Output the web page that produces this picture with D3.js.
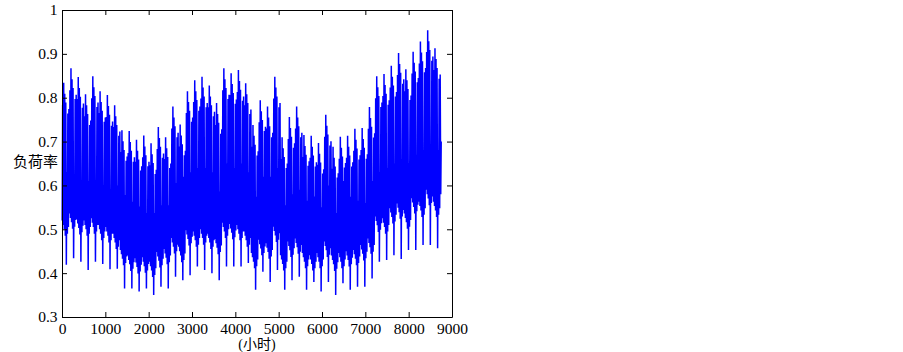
<!DOCTYPE html>
<html><head><meta charset="utf-8">
<script src="https://cdn.jsdelivr.net/npm/d3@7"></script>
<style>body{margin:0;background:#fff}svg{display:block}</style>
</head><body>
<svg id="c" width="903" height="352"></svg>
<script>
// ---- data (weekly envelope values of the hourly load rate) ----
const weekPeak=[0.834,0.867,0.847,0.808,0.849,0.815,0.806,0.783,0.726,0.724,0.704,0.714,0.696,0.733,0.710,0.780,0.739,0.815,0.840,0.848,0.828,0.788,0.867,0.856,0.863,0.833,0.738,0.794,0.780,0.848,0.710,0.756,0.780,0.715,0.713,0.697,0.761,0.688,0.711,0.713,0.729,0.731,0.779,0.849,0.854,0.873,0.902,0.865,0.905,0.928,0.954,0.913,0.750];
const weekTrough=[0.419,0.434,0.426,0.407,0.426,0.421,0.409,0.410,0.365,0.365,0.358,0.365,0.350,0.369,0.365,0.392,0.384,0.395,0.415,0.407,0.400,0.384,0.415,0.415,0.415,0.423,0.362,0.403,0.380,0.407,0.362,0.384,0.392,0.362,0.380,0.358,0.380,0.350,0.377,0.362,0.369,0.369,0.388,0.426,0.430,0.441,0.432,0.453,0.453,0.464,0.464,0.457,0.460];
const weekBaseMin=[0.520,0.536,0.523,0.520,0.525,0.510,0.505,0.490,0.453,0.440,0.434,0.436,0.426,0.448,0.455,0.480,0.460,0.498,0.495,0.500,0.490,0.478,0.515,0.512,0.510,0.495,0.446,0.476,0.468,0.506,0.441,0.472,0.479,0.446,0.441,0.446,0.472,0.440,0.446,0.450,0.453,0.464,0.479,0.529,0.525,0.548,0.559,0.536,0.571,0.563,0.590,0.563,0.580];
const weekGapMax=[0.630,0.620,0.605,0.610,0.600,0.600,0.590,0.600,0.578,0.563,0.552,0.537,0.537,0.555,0.555,0.605,0.620,0.630,0.640,0.640,0.630,0.586,0.650,0.640,0.650,0.630,0.574,0.620,0.620,0.640,0.555,0.580,0.590,0.565,0.575,0.550,0.600,0.537,0.610,0.574,0.565,0.560,0.610,0.630,0.640,0.650,0.660,0.650,0.670,0.680,0.690,0.680,0.650];
// day-of-week shape (read from the spikes inside one week); day 4 uses the gap/trough values
const weekdayMaxOffset=[-0.05,0,-0.025,-0.045,null,-0.07,-0.06];
const weekdayMinOffset=[0,-0.01,-0.02,-0.035,null,-0.03,-0.015];
const xTicks=[0,1000,2000,3000,4000,5000,6000,7000,8000,9000];
const yTicks=[0.3,0.4,0.5,0.6,0.7,0.8,0.9,1];
const yTickLabels=["0.3","0.4","0.5","0.6","0.7","0.8","0.9","1"];
const days=365;
const yLabel="负荷率";
const xLabel="(小时)";

// ---- build the series: daily minimum (night) and maximum (day) ----
const series=[];
for(let day=0;day<days;day++){
  const w=Math.floor(day/7), d=day%7;
  const mx = d===4 ? weekGapMax[w] : weekPeak[w]+weekdayMaxOffset[d];
  const mn = d===4 ? weekTrough[w] : weekBaseMin[w]+weekdayMinOffset[d];
  series.push({h:day*24+4,v:mn});
  series.push({h:day*24+15,v:mx});
}

const svg=d3.select("#c");
const L=62,R=452,T=10,B=317;
const x=d3.scaleLinear().domain([0,9000]).range([L,R]);
const y=d3.scaleLinear().domain([0.3,1]).range([B,T]);
const font="'Liberation Serif','Times New Roman',serif";

svg.append("path").datum(series)
  .attr("fill","none").attr("stroke","#0000ff").attr("stroke-width",1.5)
  .attr("stroke-linejoin","miter").attr("stroke-miterlimit",1.2)
  .attr("d",d3.line().x(d=>x(d.h)).y(d=>y(d.v)));

const ax=(g)=>{g.selectAll("path,line").attr("stroke","#000").attr("stroke-width",1);
  g.selectAll("text").attr("fill","#000").style("font-family",font).style("font-size","15.5px");};

svg.append("g").attr("transform",`translate(0,${B})`)
  .call(d3.axisBottom(x).tickValues(xTicks).tickFormat(d3.format("d")).tickSizeInner(-5).tickSizeOuter(0).tickPadding(6)).call(ax);
svg.append("g").attr("transform",`translate(0,${T})`)
  .call(d3.axisTop(x).tickValues(xTicks).tickFormat("").tickSizeInner(-5).tickSizeOuter(0)).call(ax);
svg.append("g").attr("transform",`translate(${L},0)`)
  .call(d3.axisLeft(y).tickValues(yTicks).tickFormat((d,i)=>yTickLabels[i]).tickSizeInner(-5).tickSizeOuter(0).tickPadding(4.5)).call(ax);
svg.append("g").attr("transform",`translate(${R},0)`)
  .call(d3.axisRight(y).tickValues(yTicks).tickFormat("").tickSizeInner(-5).tickSizeOuter(0)).call(ax);
svg.selectAll(".domain").attr("fill","none");

svg.append("text").attr("x",58).attr("y",167).attr("text-anchor","end")
  .style("font-family","'Noto Sans CJK SC',sans-serif").style("font-size","15px").text(yLabel);
svg.append("text").attr("x",(L+R)/2).attr("y",349).attr("text-anchor","middle")
  .style("font-family",font+",'Noto Sans CJK SC'").style("font-size","14px").text(xLabel);
</script>
</body></html>
